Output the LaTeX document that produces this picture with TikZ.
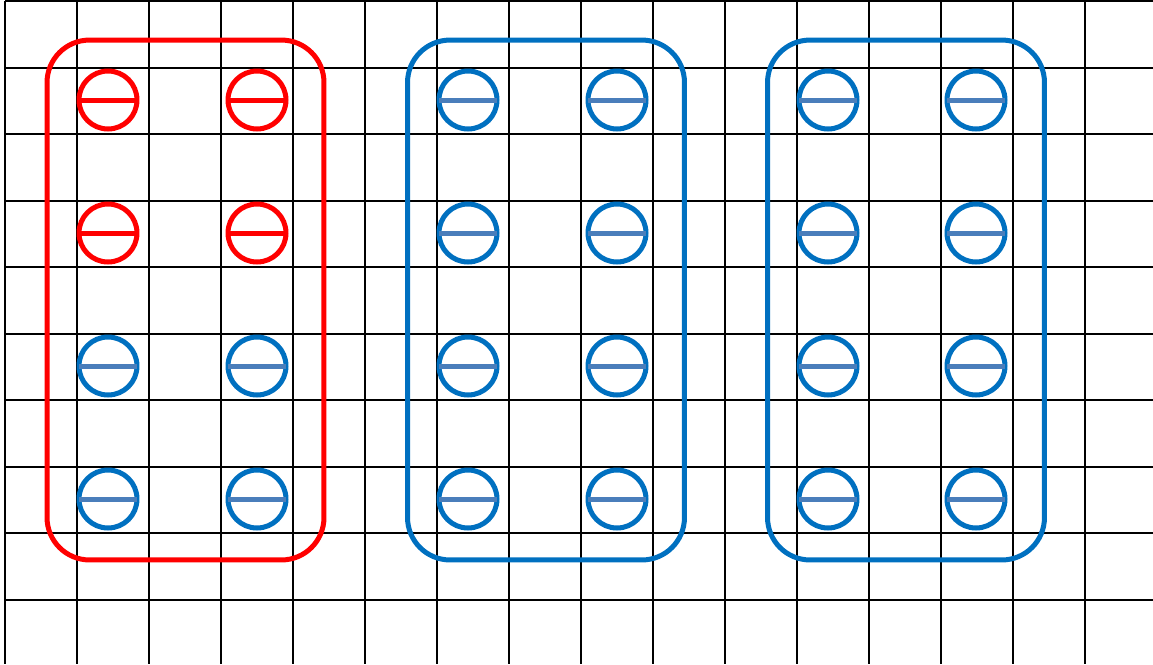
\documentclass[tikz,border=0pt]{standalone}
\definecolor{redc}{HTML}{FF0000}
\definecolor{bluec}{HTML}{0070C0}
\definecolor{barc}{HTML}{4A7EBB}
\begin{document}
\begin{tikzpicture}[x=0.02cm, y=-0.02cm,
          gridline/.style={line width=0.04cm, black},
          grp/.style={draw=#1, line width=0.1cm, rounded corners=0.85cm, minimum width=5.54cm, minimum height=10.4cm, inner sep=0pt, outer sep=0pt},
          disc/.style={circle, draw=#1, line width=0.1cm, minimum size=1.16cm, inner sep=0pt, outer sep=0pt},
          bar/.style={draw=#1, line width=0.1cm}]
        \useasboundingbox (0,0) rectangle (1153,664);
        % grid
        \foreach \i in {0,...,15}
          \draw[gridline] (5+72*\i,1) -- (5+72*\i,664);
        \foreach \j in {0,...,9}
          \draw[gridline] (5,1+66.5*\j) -- (1153,1+66.5*\j);
        % groups
        \node[grp=redc]  (grp0) at (185.5,300) {};
        \node[grp=bluec] (grp1) at (546,300) {};
        \node[grp=bluec] (grp2) at (906,300) {};
        % red discs
        \foreach \x in {108,257}
          \foreach \y in {100,233} {
            \node[disc=redc] (d\x-\y) at (\x,\y) {};
            \draw[bar=redc] (d\x-\y.west) -- (d\x-\y.east);
          }
        % blue discs
        \foreach \x in {108,257}
          \foreach \y in {366,499} {
            \node[disc=bluec] (d\x-\y) at (\x,\y) {};
            \draw[bar=barc] (d\x-\y.west) -- (d\x-\y.east);
          }
        \foreach \x in {468,617,828,976}
          \foreach \y in {100,233,366,499} {
            \node[disc=bluec] (d\x-\y) at (\x,\y) {};
            \draw[bar=barc] (d\x-\y.west) -- (d\x-\y.east);
          }
      \end{tikzpicture}
\end{document}
